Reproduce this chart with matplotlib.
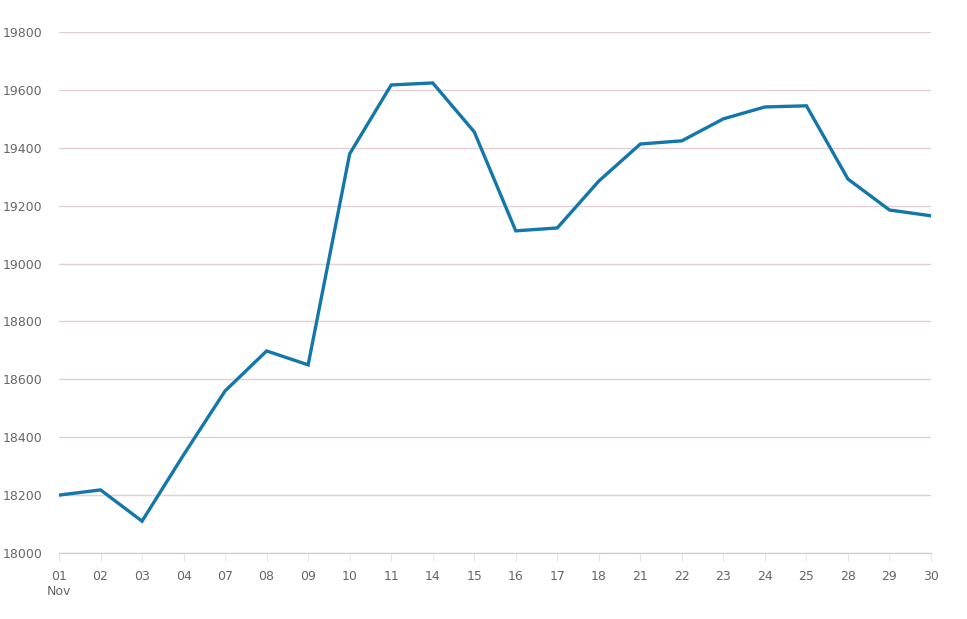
import numpy as np
import matplotlib.pyplot as plt

# daily closing values, November
days = ['01', '02', '03', '04', '07', '08', '09', '10', '11', '14', '15',
        '16', '17', '18', '21', '22', '23', '24', '25', '28', '29', '30']
values = [18200, 18218, 18110, 18339, 18560, 18698, 18650, 19379, 19617, 19624,
          19455, 19113, 19123, 19285, 19413, 19424, 19500, 19541, 19545, 19292,
          19185, 19165]
yticks = [18000, 18200, 18400, 18600, 18800, 19000, 19200, 19400, 19600, 19800]

fig = plt.figure(figsize=(9.67, 6.19), dpi=100)
ax = fig.add_axes([59/967, 66/619, 872/967, 521/619])

x = np.arange(len(days))
ax.plot(x, values, color='#1378a9', lw=2.4, solid_joinstyle='miter')

ax.set_xlim(0, len(days) - 1)
ax.set_ylim(18000, 19800)
ax.set_yticks(yticks)
ax.set_yticklabels([str(v) for v in yticks])
ax.set_xticks(x)
ax.set_xticklabels(days)

ax.grid(axis='y', color='#e3cfd8', lw=1)
ax.set_axisbelow(True)
for s in ['top', 'right', 'left']:
    ax.spines[s].set_visible(False)
ax.spines['bottom'].set_color('#cccccc')
ax.tick_params(axis='y', length=0, pad=12, labelsize=9, labelcolor='#666666')
ax.tick_params(axis='x', length=6, color='#e6e6e6', pad=6, labelsize=9, labelcolor='#666666')

ax.text(0, -0.062, 'Nov', transform=ax.get_xaxis_transform(), ha='center', va='top',
        fontsize=9, color='#666666')

fig.savefig('out.png', dpi=100, facecolor='white')
